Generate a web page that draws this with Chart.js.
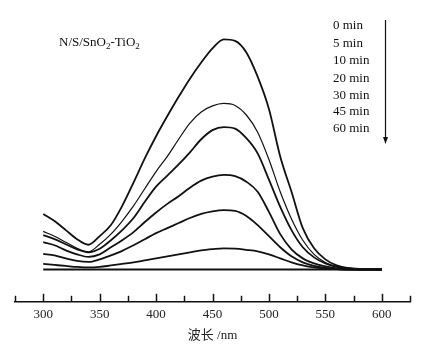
<!DOCTYPE html>
<html>
<head>
<meta charset="utf-8">
<script src="https://cdn.jsdelivr.net/npm/chart.js@4.4.1/dist/chart.umd.min.js"></script>
<style>
  html, body { margin: 0; padding: 0; background: #fff; }
  #wrap { width: 433px; height: 351px; position: relative; }
</style>
</head>
<body>
<div id="wrap"><canvas id="c" width="433" height="351"></canvas></div>
<script>
// ---- data ----
const wavelengths = [300,310,320,330,340,350,360,370,380,390,400,410,420,430,440,450,460,470,480,490,500,510,520,530,540,550,560,570,580,590,600];
const seriesLabels = ['0 min','5 min','10 min','20 min','30 min','45 min','60 min'];
const abs0min  = [0.55,0.48,0.39,0.30,0.245,0.33,0.44,0.63,0.86,1.10,1.32,1.52,1.71,1.89,2.05,2.19,2.28,2.265,2.15,1.91,1.59,1.12,0.77,0.41,0.21,0.10,0.04,0.015,0.005,0.002,0];
const abs5min  = [0.377,0.33,0.27,0.21,0.175,0.25,0.35,0.48,0.63,0.80,0.97,1.12,1.29,1.45,1.56,1.62,1.645,1.625,1.53,1.36,1.09,0.77,0.50,0.29,0.15,0.07,0.03,0.01,0.003,0,0];
const abs10min = [0.34,0.30,0.25,0.20,0.17,0.205,0.29,0.39,0.51,0.67,0.82,0.93,1.04,1.16,1.29,1.38,1.41,1.395,1.30,1.15,0.89,0.62,0.39,0.22,0.12,0.06,0.025,0.01,0.002,0,0];
const abs20min = [0.27,0.24,0.19,0.15,0.125,0.15,0.22,0.29,0.37,0.47,0.565,0.65,0.725,0.81,0.88,0.92,0.937,0.925,0.87,0.77,0.57,0.35,0.20,0.11,0.06,0.03,0.012,0.005,0,0,0];
const abs30min = [0.155,0.14,0.11,0.085,0.075,0.10,0.14,0.185,0.24,0.30,0.36,0.41,0.46,0.51,0.55,0.575,0.587,0.58,0.53,0.44,0.33,0.22,0.13,0.07,0.035,0.015,0.005,0,0,0,0];
const abs45min = [0.055,0.045,0.035,0.025,0.02,0.025,0.04,0.055,0.07,0.09,0.11,0.13,0.15,0.17,0.19,0.202,0.21,0.207,0.195,0.18,0.15,0.11,0.07,0.04,0.02,0.01,0.003,0,0,0,0];
const abs60min = [0,0,0,0,0,0,0,0,0,0,0,0,0,0,0,0,0,0,0,0,0,0,0,0,0,0,0,0,0,0,0];
const xTickLabels = [300,350,400,450,500,550,600];
const xMinorTicks = [275,300,325,350,375,400,425,450,475,500,525,550,575,600,625];
const sampleName = ['N/S/SnO', '2', '-TiO', '2'];
const xTitle = '波长 /nm';

const allSeries = [abs0min, abs5min, abs10min, abs20min, abs30min, abs45min, abs60min];
const widths = [1.8, 1.2, 1.8, 1.8, 1.8, 1.8, 2.0];

const SERIF = "'Liberation Serif', 'DejaVu Serif', 'Noto Sans CJK SC', serif";

const datasets = allSeries.map((arr, i) => ({
  label: seriesLabels[i],
  data: wavelengths.map((w, j) => ({x: w, y: arr[j]})),
  borderColor: '#111',
  borderWidth: widths[i],
  pointRadius: 0,
  fill: false,
  cubicInterpolationMode: 'monotone'
}));

const decorPlugin = {
  id: 'decor',
  afterDraw(chart) {
    const ctx = chart.ctx;
    const xs = chart.scales.x;
    const bottom = chart.chartArea.bottom;
    ctx.save();
    // tick marks pointing upward
    ctx.strokeStyle = '#111';
    ctx.lineWidth = 1.5;
    xMinorTicks.forEach(v => {
      const px = Math.round(xs.getPixelForValue(v)) + 0.5;
      const len = (v % 50 === 0) ? 8 : 6;
      ctx.beginPath();
      ctx.moveTo(px, bottom);
      ctx.lineTo(px, bottom - len);
      ctx.stroke();
    });
    // sample name with subscripts
    ctx.fillStyle = '#111';
    ctx.textBaseline = 'alphabetic';
    let x = 59;
    const base = 46;
    sampleName.forEach((s, i) => {
      const sub = (i % 2 === 1);
      ctx.font = (sub ? '9px ' : '13px ') + SERIF;
      ctx.fillText(s, x, sub ? base + 3 : base);
      x += ctx.measureText(s).width;
    });
    // time labels
    ctx.font = '13px ' + SERIF;
    ctx.textBaseline = 'middle';
    ctx.textAlign = 'left';
    const ys = [26, 43.3, 61, 78.3, 95.7, 112, 128.7];
    seriesLabels.forEach((s, i) => ctx.fillText(s, 333, ys[i]));
    // arrow
    ctx.lineWidth = 1.2;
    ctx.beginPath();
    ctx.moveTo(385.5, 20);
    ctx.lineTo(385.5, 138);
    ctx.stroke();
    ctx.beginPath();
    ctx.moveTo(383, 137);
    ctx.lineTo(388, 137);
    ctx.lineTo(385.5, 144);
    ctx.closePath();
    ctx.fill();
    ctx.restore();
  }
};

new Chart(document.getElementById('c'), {
  type: 'line',
  data: { datasets },
  options: {
    responsive: false,
    animation: false,
    devicePixelRatio: 1,
    layout: { padding: { left: 15, right: 23, top: 10, bottom: 8 } },
    plugins: { legend: { display: false }, tooltip: { enabled: false } },
    scales: {
      x: {
        type: 'linear',
        min: 275,
        max: 625,
        afterBuildTicks: (scale) => { scale.ticks = xTickLabels.map(v => ({value: v})); },
        grid: { display: false, drawTicks: false },
        border: { display: true, color: '#111', width: 1.5 },
        ticks: { color: '#222', padding: 5, font: { family: SERIF, size: 13 } },
        title: { display: true, text: xTitle, color: '#222', padding: { top: 0, bottom: 0 }, font: { family: SERIF, size: 13 } }
      },
      y: {
        display: false,
        min: -0.32,
        max: 2.57
      }
    }
  },
  plugins: [decorPlugin]
});
</script>
</body>
</html>
